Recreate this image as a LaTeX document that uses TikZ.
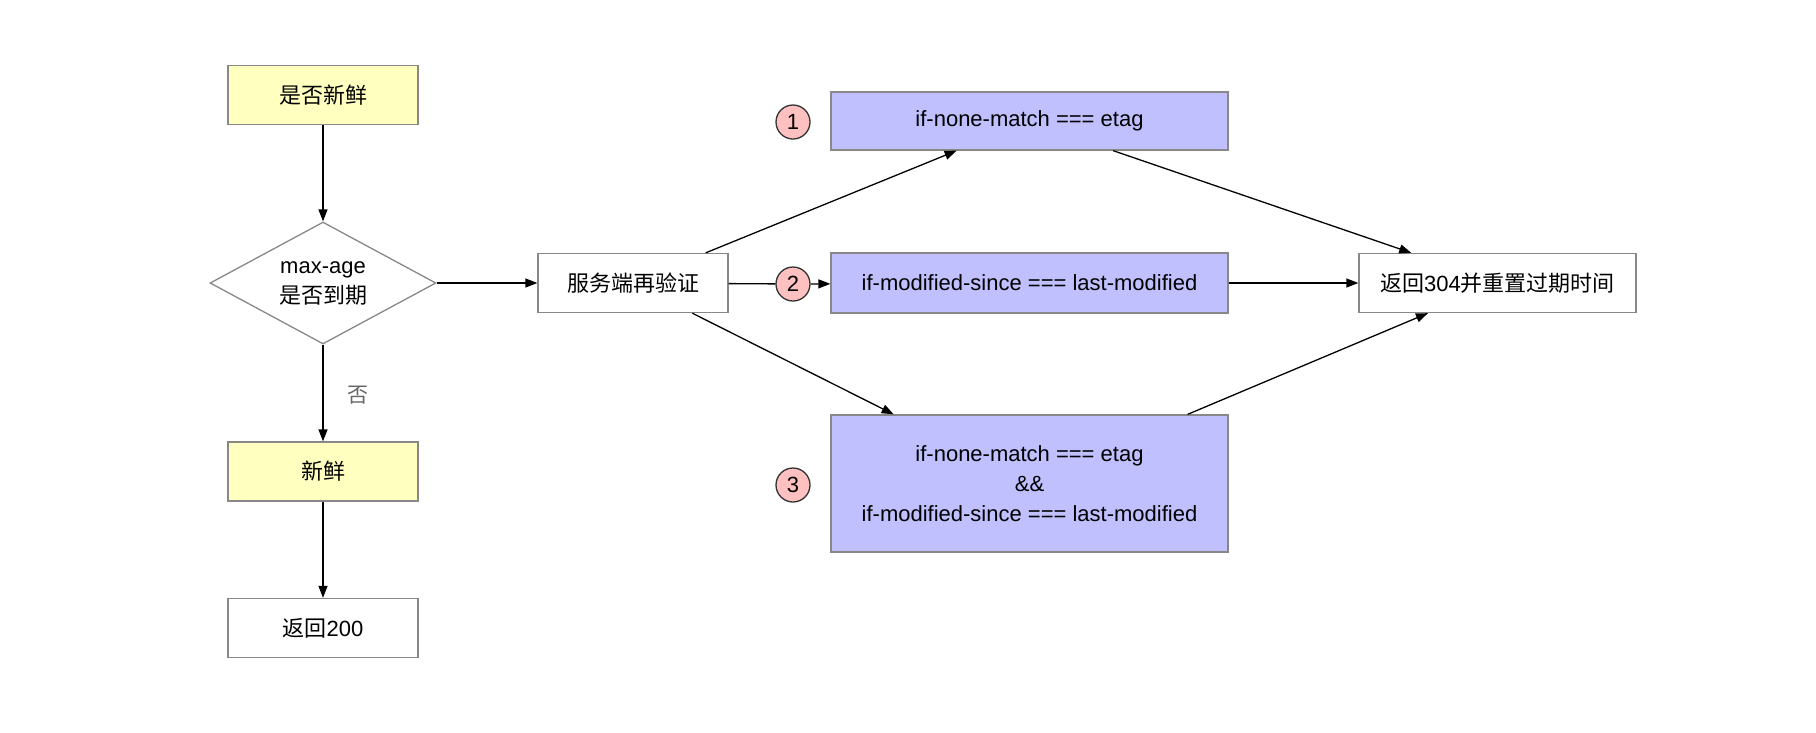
\documentclass[tikz,border=0pt]{standalone}
\usepackage{fontspec}
\setmainfont{Liberation Sans}
\newfontfamily\cjk{Noto Sans CJK SC}
\usetikzlibrary{shapes.geometric, arrows.meta, positioning, calc}

\definecolor{boxgray}{HTML}{888888}
\definecolor{freshyellow}{HTML}{FFFFC0}
\definecolor{condblue}{HTML}{C0C0FF}
\definecolor{markpink}{HTML}{FFC0C0}
\definecolor{labelgray}{HTML}{666666}

\tikzset{
	box/.style={draw=boxgray, line width=1.3pt, minimum width=190pt, minimum height=59pt,
		inner sep=0pt, align=center, font=\fontsize{22}{30}\selectfont},
	condbox/.style={box, fill=condblue, minimum width=397pt},
	decision/.style={diamond, aspect=1.85, draw=boxgray, line width=1.3pt, minimum width=226pt,
		minimum height=122pt, inner sep=0pt, align=center, font=\fontsize{22}{30}\selectfont},
	marker/.style={circle, draw=black!80, line width=1.3pt, fill=markpink, minimum size=34pt,
		inner sep=0pt, font=\fontsize{22}{26}\selectfont},
	link/.style={line width=1.3pt},
	arr/.style={link, -{Triangle[length=12pt,width=9pt]}}
}

\begin{document}
\begin{tikzpicture}[x=1pt,y=-1pt]
		\useasboundingbox (0,0) rectangle (1816,732);

		% Freshness check
		\node[box, fill=freshyellow] (fresh) at (323,95) {\cjk 是否新鲜};
		\node[decision] (maxage) at (323,283) {max-age\\{\cjk 是否到期}};
		\node[box, fill=freshyellow] (isfresh) at (323,471.5) {\cjk 新鲜};
		\node[box] (ret200) at (323,628) {{\cjk 返回}200};
		\node[text=labelgray, font=\fontsize{21}{26}\selectfont\cjk] (no) at (358,395) {否};

		\draw[arr] (fresh) -- (maxage);
		\draw[arr] (maxage) -- (isfresh);
		\draw[arr] (isfresh) -- (ret200);

		% Revalidation
		\node[box] (verify) at (633,283) {\cjk 服务端再验证};
		\node[condbox, minimum height=58pt] (etag) at (1029.5,121) {if-none-match === etag};
		\node[condbox, minimum height=60pt] (lastmod) at (1029.5,283) {if-modified-since === last-modified};
		\node[condbox, minimum height=137pt] (both) at (1029.5,483.5)
			{if-none-match === etag\\\&\&\\if-modified-since === last-modified};
		\node[box, minimum width=277pt] (ret304) at (1497.5,283) {{\cjk 返回}304{\cjk 并重置过期时间}};

		\node[marker] (c1) at (793,122) {1};
		\node[marker] (c2) at (793,284) {2};
		\node[marker] (c3) at (793,485) {3};

		\draw[arr] (maxage) -- (verify);
		\draw[link] (verify) -- (c2);
		\draw[arr] (c2) -- (lastmod);
		\draw[arr] (lastmod) -- (ret304);

		\draw[arr] ($(verify.north west)!0.88!(verify.north east)$) -- ($(etag.south west)!0.317!(etag.south east)$);
		\draw[arr] ($(verify.south west)!0.81!(verify.south east)$) -- ($(both.north west)!0.159!(both.north east)$);
		\draw[arr] ($(etag.south west)!0.71!(etag.south east)$) -- ($(ret304.north west)!0.19!(ret304.north east)$);
		\draw[arr] ($(both.north west)!0.897!(both.north east)$) -- ($(ret304.south west)!0.25!(ret304.south east)$);
	\end{tikzpicture}
\end{document}
